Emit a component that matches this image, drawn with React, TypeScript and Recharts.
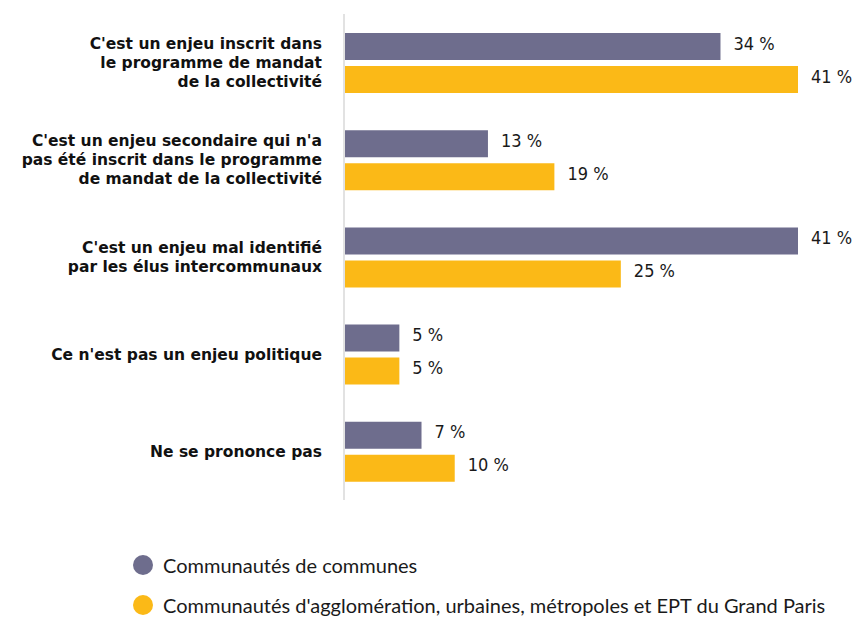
import { BarChart, Bar, XAxis, YAxis, LabelList } from "recharts";

const categories = [
  ["C'est un enjeu inscrit dans", "le programme de mandat", "de la collectivité"],
  ["C'est un enjeu secondaire qui n'a", "pas été inscrit dans le programme", "de mandat de la collectivité"],
  ["C'est un enjeu mal identifié", "par les élus intercommunaux"],
  ["Ce n'est pas un enjeu politique"],
  ["Ne se prononce pas"],
];
const ccValues = [34, 13, 41, 5, 7];
const caValues = [41, 19, 25, 5, 10];
const seriesNames = [
  "Communautés de communes",
  "Communautés d'agglomération, urbaines, métropoles et EPT du Grand Paris",
];
const colors = ["#6e6d8d", "#fbb917"];

const data = categories.map((lines, i) => ({
  name: lines.join("\n"),
  cc: ccValues[i],
  ca: caValues[i],
}));

const CategoryTick = (props: any) => {
  const { x, y, payload } = props;
  const lines = String(payload.value).split("\n");
  const lh = 19;
  const start = y - ((lines.length - 1) * lh) / 2;
  return (
    <text
      x={x - 22}
      y={start}
      textAnchor="end"
      fontFamily="DejaVu Sans"
      fontWeight="bold"
      fontSize={15.5}
      fill="#111"
    >
      {lines.map((l, i) => (
        <tspan key={i} x={x - 22} y={start + i * lh} dy="0.36em">
          {l}
        </tspan>
      ))}
    </text>
  );
};

const ValueLabel = (props: any) => {
  const { x, y, width, height, value } = props;
  return (
    <text
      x={x + width + 13}
      y={y + height / 2 + 3}
      style={{ fontFamily: "'DejaVu Sans Condensed', 'DejaVu Sans'", fontStretch: "condensed" }}
      fontSize={18}
      fill="#1a1a1a"
    >
      {value} %
    </text>
  );
};

export default function App() {
  return (
    <div style={{ position: "absolute", left: 0, top: 0, width: 852, height: 622, background: "#fff" }}>
      <BarChart
        width={852}
        height={510}
        layout="vertical"
        data={data}
        margin={{ top: 14, right: 54, bottom: 10, left: 0 }}
        barSize={27}
        barGap={6}
      >
        <XAxis type="number" domain={[0, 41]} hide />
        <YAxis
          type="category"
          dataKey="name"
          width={344}
          axisLine={{ stroke: "#e2e2e2", strokeWidth: 2 }}
          tickLine={false}
          tickSize={0}
          tickMargin={0}
          interval={0}
          tick={<CategoryTick />}
        />
        <Bar dataKey="cc" fill={colors[0]} isAnimationActive={false}>
          <LabelList dataKey="cc" content={<ValueLabel />} />
        </Bar>
        <Bar dataKey="ca" fill={colors[1]} isAnimationActive={false}>
          <LabelList dataKey="ca" content={<ValueLabel />} />
        </Bar>
      </BarChart>
      {seriesNames.map((n, i) => (
        <div
          key={n}
          style={{
            position: "absolute",
            left: 133,
            top: 553 + i * 40,
            height: 24,
            display: "flex",
            alignItems: "center",
            fontFamily: "Lato",
            fontSize: 20,
            color: "#1a1a1a",
            whiteSpace: "nowrap",
          }}
        >
          <svg width={30} height={24}>
            <circle cx={10} cy={12} r={10} fill={colors[i]} />
          </svg>
          <span>{n}</span>
        </div>
      ))}
    </div>
  );
}
